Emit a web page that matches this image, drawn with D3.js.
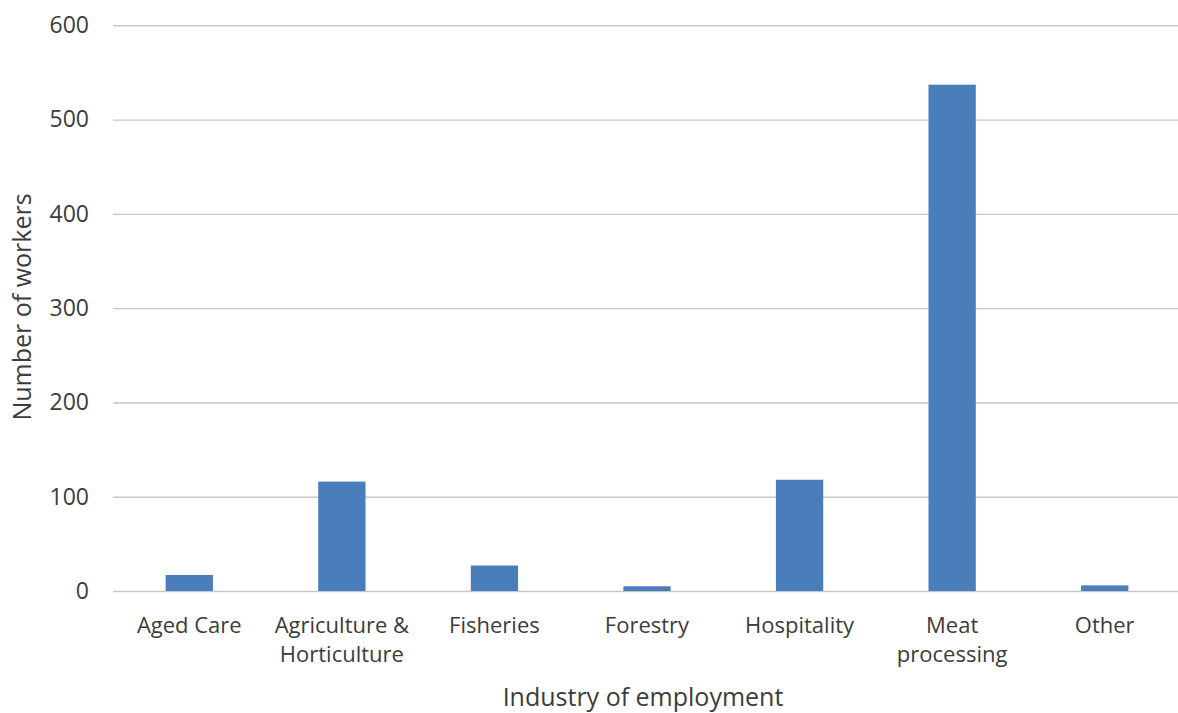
<!DOCTYPE html>
<html>
<head>
<meta charset="utf-8">
<script src="https://cdn.jsdelivr.net/npm/d3@7"></script>
<style>
  body { margin: 0; background: #fff; }
  text { font-family: "Open Sans", "Noto Sans", sans-serif; fill: #3c3c3c; }
</style>
</head>
<body>
<div id="container"></div>
<script>
// data
const categories = ["Aged Care", "Agriculture & Horticulture", "Fisheries", "Forestry", "Hospitality", "Meat processing", "Other"];
const labelLines = [["Aged Care"], ["Agriculture &", "Horticulture"], ["Fisheries"], ["Forestry"], ["Hospitality"], ["Meat", "processing"], ["Other"]];
const workers = [17, 116, 27, 5, 118, 537, 6];
const yTicks = [0, 100, 200, 300, 400, 500, 600];

const width = 1178;
const height = 713;
const plotLeft = 113, plotRight = 1181, plotTop = 25.3, plotBottom = 591;

const svg = d3.select("#container").append("svg")
  .attr("width", width).attr("height", height);

const xScale = d3.scaleBand()
  .domain(categories)
  .range([plotLeft, plotRight])
  .paddingInner(0.69)
  .paddingOuter(0.345);

const yScale = d3.scaleLinear()
  .domain([0, 600])
  .range([plotBottom, plotTop]);

// gridlines + y labels
const yAxis = d3.axisLeft(yScale)
  .tickValues(yTicks)
  .tickSize(-(plotRight - plotLeft))
  .tickPadding(24);

svg.append("g")
  .attr("transform", "translate(" + plotLeft + ",0)")
  .call(yAxis)
  .call(g => g.select(".domain").remove())
  .call(g => g.selectAll("line").attr("stroke", "#c6c6c6").attr("stroke-width", 1.4))
  .call(g => g.selectAll("text").attr("font-size", 23).style("fill", "#3c3c3c"));

// bars
svg.selectAll("rect.bar")
  .data(workers)
  .enter()
  .append("rect")
  .attr("class", "bar")
  .attr("x", (d, i) => xScale(categories[i]))
  .attr("y", d => yScale(d))
  .attr("width", xScale.bandwidth())
  .attr("height", d => yScale(0) - yScale(d))
  .attr("fill", "#4a7ebb");

// x labels
const xl = svg.append("g");
labelLines.forEach((lines, i) => {
  const cx = xScale(categories[i]) + xScale.bandwidth() / 2;
  const t = xl.append("text")
    .attr("text-anchor", "middle")
    .attr("font-size", 22)
    .attr("x", cx)
    .attr("y", 633);
  lines.forEach((ln, j) => {
    t.append("tspan").attr("x", cx).attr("dy", j === 0 ? 0 : 29).text(ln);
  });
});

// axis titles
svg.append("text")
  .attr("text-anchor", "middle")
  .attr("font-size", 25)
  .attr("x", 643)
  .attr("y", 706)
  .text("Industry of employment");

svg.append("text")
  .attr("text-anchor", "middle")
  .attr("font-size", 25)
  .attr("transform", "translate(31,307) rotate(-90)")
  .text("Number of workers");
</script>
</body>
</html>
